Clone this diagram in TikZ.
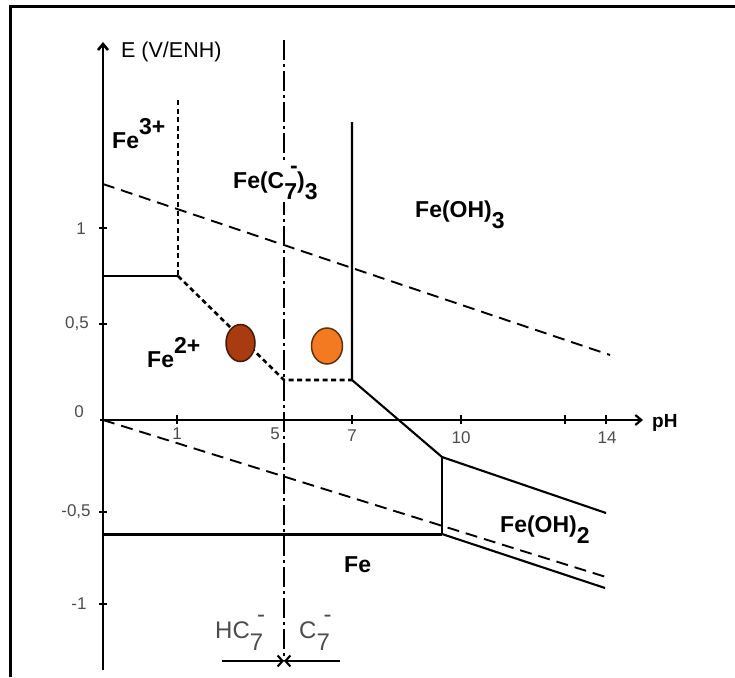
\documentclass[tikz,border=0pt]{standalone}
\usepackage{fontspec}
\setmainfont{Liberation Sans}
\usetikzlibrary{arrows.meta,shapes.geometric}
\newcommand\lo[1]{\raisebox{-0.5em}{#1}}
\newcommand\hi[1]{\raisebox{0.6em}{#1}}
\begin{document}
\begin{tikzpicture}[x=1pt,y=-1pt,
  lbl/.style={font=\fontsize{23}{26}\selectfont\bfseries, inner sep=0pt, anchor=base west},
  thin lbl/.style={font=\fontsize{24}{27}\selectfont, text=black!70, inner sep=0pt, anchor=base west},
  ticklbl/.style={font=\fontsize{17}{20}\selectfont, text=black!70, inner sep=0pt},
  axisline/.style={line width=2.6pt},
  bline/.style={line width=2.1pt},
  heavy/.style={line width=3pt},
  wdash/.style={line width=1.9pt, dash pattern=on 12pt off 7pt},
  sdash/.style={line width=2.6pt, dash pattern=on 5pt off 3.5pt},
  dashdot/.style={line width=2.2pt, dash pattern=on 20pt off 4pt on 3pt off 4pt},
  tickmark/.style={line width=1.6pt},
  dot/.style={draw=#1!40!black, line width=1.5pt, fill=#1, ellipse, inner sep=0pt},
]
\useasboundingbox (0,0) rectangle (735,677);
\definecolor{brownish}{HTML}{A83C10}
\definecolor{orangish}{HTML}{F47A22}
% frame
\draw[line width=3pt] (10,677) -- (10,7) -- (735,7);

% key points
\coordinate (Ebot) at (103,670);
\coordinate (Etop) at (103,42);
\coordinate (pHl) at (100,420);
\coordinate (pHr) at (643,420);
\coordinate (A) at (103,276);
\coordinate (B) at (178,276);
\coordinate (Btop) at (178,100);
\coordinate (C) at (284,380);
\coordinate (Ctop) at (284,40);
\coordinate (Cbot) at (284,661);
\coordinate (D) at (352,380);
\coordinate (Dtop) at (352,122);
\coordinate (F) at (442,457);
\coordinate (G) at (442,534);
\coordinate (H) at (103,534);
\coordinate (I) at (606,513);
\coordinate (J) at (605,588);
\coordinate (O1) at (103,184);
\coordinate (O2) at (610,355);
\coordinate (W1) at (103,420);
\coordinate (W2) at (606,577);
\coordinate (L1) at (222,661);
\coordinate (R1) at (340,661);

% water lines
\draw[wdash] (O1) -- (O2);
\draw[wdash] (W1) -- (W2);

% axes
\draw[axisline, -{Straight Barb[length=6pt,width=10pt]}] (Ebot) -- (Etop);
\draw[line width=2.2pt, -{Straight Barb[length=6pt,width=10pt]}] (pHl) -- (pHr);

% ticks
\foreach \y in {228,324,512,604} \draw[tickmark] (99,\y) -- (107,\y);
\foreach \x in {177,284,352,461,565,606} \draw[tickmark] (\x,415) -- (\x,424);

% tick labels
\node[ticklbl] (t1) at (81,229) {1};
\node[ticklbl] (t05) at (77,324) {0,5};
\node[ticklbl] (t0) at (79,412) {0};
\node[ticklbl] (tm05) at (76,512) {-0,5};
\node[ticklbl] (tm1) at (79,604) {-1};
\node[ticklbl] (p1) at (177,434) {1};
\node[ticklbl] (p5) at (275,434) {5};
\node[ticklbl] (p7) at (352,436) {7};
\node[ticklbl] (p10) at (461,438) {10};
\node[ticklbl] (p14) at (607,438) {14};

% boundaries
\draw[bline] (A) -- (B);
\draw[sdash] (Btop) -- (B);
\draw[sdash] (B) -- (C) -- (D);
\draw[dashdot] (Ctop) -- (Cbot);
\draw[bline] (Dtop) -- (D) -- (F) -- (I);
\draw[bline] (F) -- (G);
\draw[heavy] (H) -- (G);
\draw[bline] (G) -- (J);

% bottom arrows
\draw[bline, -{Straight Barb[length=5pt,width=11pt]}] (L1) -- (Cbot);
\draw[bline, -{Straight Barb[length=5pt,width=11pt]}] (R1) -- (Cbot);

% dots
\node[dot=brownish, minimum width=29pt, minimum height=37pt] (d1) at (240.5,343) {};
\node[dot=orangish, minimum width=31pt, minimum height=36pt] (d2) at (327,346) {};

% labels
\node[font=\fontsize{21.5}{25}\selectfont, inner sep=0pt, anchor=base west] (Elab) at (121,57) {E (V/ENH)};
\node[font=\fontsize{19}{22}\selectfont\bfseries, inner sep=0pt, anchor=base west] (pHlab) at (652,427) {pH};
\node[lbl] (fe3) at (112,148) {Fe\hi{3+}};
\node[lbl] (fe2) at (147,367) {Fe\hi{2+}};
\node[lbl, fill=white, inner sep=2pt] (fec7) at (231,188) {Fe(C\rlap{\hspace{0.25em}\raisebox{0.62em}{-}}\lo{7})\lo{3}};
\node[lbl] (feoh3) at (415,217) {Fe(OH)\lo{3}};
\node[lbl] (feoh2) at (500,532) {Fe(OH)\lo{2}};
\node[lbl] (fe) at (344,572) {Fe};
\node[thin lbl] (hc7) at (215,638) {HC\rlap{\hspace{0.3em}\raisebox{0.65em}{-}}\lo{7}};
\node[thin lbl] (c7) at (299,638) {C\rlap{\hspace{0.3em}\raisebox{0.65em}{-}}\lo{7}};
\end{tikzpicture}
\end{document}
